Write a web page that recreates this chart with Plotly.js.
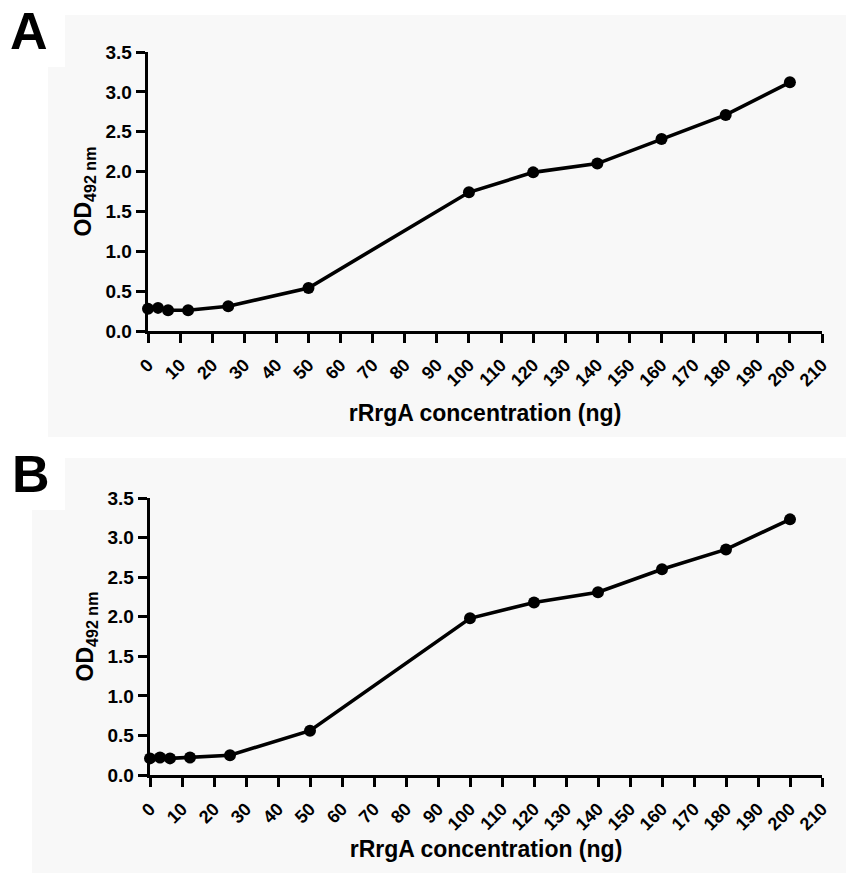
<!DOCTYPE html>
<html>
<head>
<meta charset="utf-8">
<script src="https://cdn.plot.ly/plotly-3.0.1.min.js"></script>
<style>html,body{margin:0;padding:0;background:#fff;}#chart{width:846px;height:873px;}</style>
</head>
<body>
<div id="chart"></div>
<script>
// Data
const concentration = [0, 3.125, 6.25, 12.5, 25, 50, 100, 120, 140, 160, 180, 200];
const odPanelA = [0.28, 0.29, 0.26, 0.26, 0.31, 0.54, 1.74, 1.99, 2.10, 2.41, 2.71, 3.12];
const odPanelB = [0.21, 0.22, 0.21, 0.22, 0.25, 0.56, 1.98, 2.18, 2.31, 2.60, 2.85, 3.23];
const xTickValues = [0,10,20,30,40,50,60,70,80,90,100,110,120,130,140,150,160,170,180,190,200,210];
const yTickValues = [0,0.5,1,1.5,2,2.5,3,3.5];
const panelLabels = ["A", "B"];
const xTitle = "rRrgA concentration (ng)";
const yTitle = "OD<sub>492 nm</sub>";

const W = 846, H = 873;
const FONT = "Liberation Sans, Arial, sans-serif";
const px = v => v / W;
const py = v => 1 - v / H;

function trace(y, xa, ya) {
  return {
    x: concentration, y: y, xaxis: xa, yaxis: ya,
    type: "scatter", mode: "lines+markers",
    line: {color: "#000", width: 3.6},
    marker: {color: "#000", size: 12},
    cliponaxis: false, showlegend: false, hoverinfo: "x+y"
  };
}

function xAxis(d0, d1, anchor, standoff) {
  return {
    domain: [px(d0), px(d1)], anchor: anchor, range: [0, 210],
    tickmode: "array", tickvals: xTickValues, ticktext: xTickValues.map(String),
    tickangle: -45, ticks: "outside", ticklen: 9, tickwidth: 3, tickcolor: "#000",
    showline: true, linewidth: 3.4, linecolor: "#000", showgrid: false, zeroline: false,
    tickfont: {family: FONT, size: 18, color: "#000", weight: "bold"},
    ticklabelstandoff: 4,
    title: {text: "<b>" + xTitle + "</b>", font: {family: FONT, size: 23, color: "#000"}, standoff: standoff},
    fixedrange: true
  };
}

function yAxis(d0, d1, anchor) {
  return {
    domain: [py(d1), py(d0)], anchor: anchor, range: [0, 3.5],
    tickmode: "array", tickvals: yTickValues, ticktext: yTickValues.map(v => v.toFixed(1)),
    ticks: "outside", ticklen: 9, tickwidth: 3, tickcolor: "#000",
    showline: true, linewidth: 3.4, linecolor: "#000", showgrid: false, zeroline: false,
    tickfont: {family: FONT, size: 19, color: "#000", weight: "bold"},
    ticklabelstandoff: 0,
    title: {text: "<b>" + yTitle + "</b>", font: {family: FONT, size: 23, color: "#000"}, standoff: 8},
    fixedrange: true
  };
}

const bg = "#f8f8f8";
const shapes = [
  {type: "rect", xref: "paper", yref: "paper", x0: px(65), x1: px(846), y0: py(67), y1: py(15), fillcolor: bg, line: {width: 0}, layer: "below"},
  {type: "rect", xref: "paper", yref: "paper", x0: px(48), x1: px(846), y0: py(437), y1: py(67), fillcolor: bg, line: {width: 0}, layer: "below"},
  {type: "rect", xref: "paper", yref: "paper", x0: px(65), x1: px(846), y0: py(510), y1: py(458), fillcolor: bg, line: {width: 0}, layer: "below"},
  {type: "rect", xref: "paper", yref: "paper", x0: px(32), x1: px(846), y0: py(873), y1: py(510), fillcolor: bg, line: {width: 0}, layer: "below"}
];

const annotations = [
  {text: "<b>" + panelLabels[0] + "</b>", xref: "paper", yref: "paper", x: px(8), y: py(31), xanchor: "left", yanchor: "middle", showarrow: false, font: {family: FONT, size: 52, color: "#000"}},
  {text: "<b>" + panelLabels[1] + "</b>", xref: "paper", yref: "paper", x: px(10), y: py(474), xanchor: "left", yanchor: "middle", showarrow: false, font: {family: FONT, size: 52, color: "#000"}}
];

const layout = {
  width: W, height: H,
  margin: {l: 0, r: 0, t: 0, b: 0},
  paper_bgcolor: "#ffffff", plot_bgcolor: "rgba(0,0,0,0)",
  xaxis: xAxis(148, 822, "y", 16),
  yaxis: yAxis(52, 331, "x"),
  xaxis2: xAxis(150, 822, "y2", 8),
  yaxis2: yAxis(498, 775, "x2"),
  shapes: shapes,
  annotations: annotations,
  showlegend: false
};

Plotly.newPlot("chart", [trace(odPanelA, "x", "y"), trace(odPanelB, "x2", "y2")], layout, {displayModeBar: false, staticPlot: true});
</script>
</body>
</html>
